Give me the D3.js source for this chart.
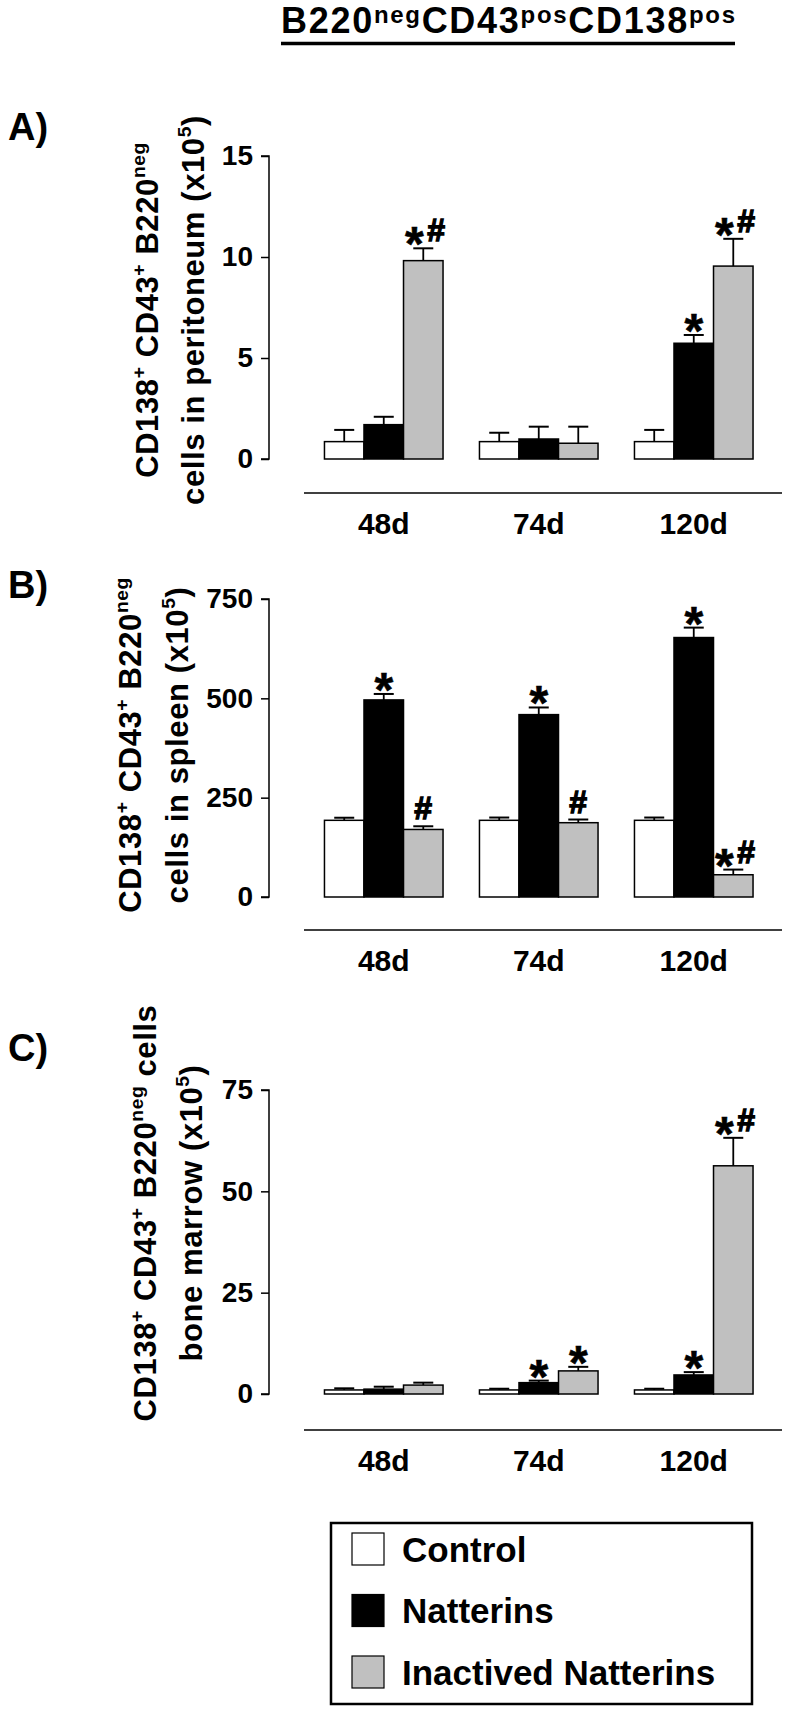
<!DOCTYPE html>
<html><head><meta charset="utf-8">
<script src="https://cdn.jsdelivr.net/npm/d3@7"></script>
<style>
body{margin:0;background:#fff;}
svg text{font-family:"Liberation Sans",Arial,Helvetica,sans-serif;font-weight:bold;fill:#000;}
</style></head><body>
<svg id="chart" width="790" height="1714"></svg>
<script>
// ---------- DATA ----------
const categories = ["48d", "74d", "120d"];
const series = ["Control", "Natterins", "Inactived Natterins"];
const seriesColors = ["#ffffff", "#000000", "#c0c0c0"];

// Panel A: peritoneum (x10^5) — mean and top of error bar, per series across categories
const periControl = [0.86, 0.86, 0.86];
const periControlTop = [1.44, 1.30, 1.44];
const periNatterins = [1.70, 0.99, 5.73];
const periNatterinsTop = [2.09, 1.60, 6.14];
const periInactived = [9.82, 0.78, 9.55];
const periInactivedTop = [10.43, 1.60, 10.9];
const periMarks = [["", "", "*#"], ["", "", ""], ["", "*", "*#"]];
const periTicks = [0, 5, 10, 15];

// Panel B: spleen
const splControl = [193, 193, 193];
const splControlTop = [199.5, 200, 200];
const splNatterins = [496, 459, 653];
const splNatterinsTop = [511, 477, 678];
const splInactived = [170, 187, 56];
const splInactivedTop = [178, 195, 69];
const splMarks = [["", "*", "#"], ["", "*", "#"], ["", "*", "*#"]];
const splTicks = [0, 250, 500, 750];

// Panel C: bone marrow
const bmControl = [1.0, 1.0, 1.0];
const bmControlTop = [1.4, 1.3, 1.3];
const bmNatterins = [1.2, 2.8, 4.7];
const bmNatterinsTop = [1.8, 3.3, 5.4];
const bmInactived = [2.2, 5.7, 56.3];
const bmInactivedTop = [2.8, 6.7, 63.2];
const bmMarks = [["", "", ""], ["", "*", "*"], ["", "*", "*#"]];
const bmTicks = [0, 25, 50, 75];

// ---------- DRAW ----------
const svg = d3.select("#chart");

const x0 = d3.scaleBand().domain(categories)
  .range([306.25, 771.25]).paddingInner(0.235).paddingOuter(0.1175);
const x1 = d3.scaleBand().domain(series).range([0, x0.bandwidth()]);

// Title
const title = svg.append("text").attr("x", 508).attr("y", 33)
  .attr("text-anchor", "middle").attr("font-size", 36)
  .attr("textLength", 454).attr("lengthAdjust", "spacing");
title.append("tspan").text("B220");
title.append("tspan").attr("font-size", 24).attr("dy", -10).text("neg");
title.append("tspan").attr("dy", 10).text("CD43");
title.append("tspan").attr("font-size", 24).attr("dy", -10).text("pos");
title.append("tspan").attr("dy", 10).text("CD138");
title.append("tspan").attr("font-size", 24).attr("dy", -10).text("pos");
const tb = title.node().getBBox();
svg.append("line").attr("x1", tb.x).attr("x2", tb.x + tb.width)
  .attr("y1", 43.5).attr("y2", 43.5).attr("stroke", "#000").attr("stroke-width", 3.5);

function ylabLine(g, x, y, parts, fs) {
  const t = g.append("text")
    .attr("transform", `translate(${x},${y}) rotate(-90)`)
    .attr("text-anchor", "middle").attr("font-size", fs)
    .attr("letter-spacing", 0.6);
  let shift = 0;
  parts.forEach(p => {
    const ts = t.append("tspan");
    if (p.sup) {
      ts.attr("font-size", fs * 0.62).attr("dy", -fs * 0.42 - shift);
      shift = -fs * 0.42;
    } else {
      if (shift !== 0) ts.attr("dy", -shift);
      shift = 0;
    }
    ts.text(p.t);
  });
}

const lineParts1 = [{t:"CD138"},{t:"+",sup:1},{t:" CD43"},{t:"+",sup:1},{t:" B220"},{t:"neg",sup:1}];

const panels = [
  {
    label: "A)", labelY: 140, max: 15, ticks: periTicks, yBottom: 459, yTop: 156, lineY: 493,
    means: [periControl, periNatterins, periInactived],
    tops: [periControlTop, periNatterinsTop, periInactivedTop], marks: periMarks,
    ylab: [
      { x: 158, parts: lineParts1 },
      { x: 204, parts: [{t:"cells in peritoneum (x10"},{t:"5",sup:1},{t:")"}] }
    ], ylabY: 310
  },
  {
    label: "B)", labelY: 598, max: 750, ticks: splTicks, yBottom: 897, yTop: 599, lineY: 930,
    means: [splControl, splNatterins, splInactived],
    tops: [splControlTop, splNatterinsTop, splInactivedTop], marks: splMarks,
    ylab: [
      { x: 141, parts: lineParts1 },
      { x: 188, parts: [{t:"cells in spleen (x10"},{t:"5",sup:1},{t:")"}] }
    ], ylabY: 745
  },
  {
    label: "C)", labelY: 1061, max: 75, ticks: bmTicks, yBottom: 1394, yTop: 1090, lineY: 1430,
    means: [bmControl, bmNatterins, bmInactived],
    tops: [bmControlTop, bmNatterinsTop, bmInactivedTop], marks: bmMarks,
    ylab: [
      { x: 156, parts: lineParts1.concat([{t:" cells"}]) },
      { x: 202, parts: [{t:"bone marrow (x10"},{t:"5",sup:1},{t:")"}] }
    ], ylabY: 1213
  }
];

function star(gg, x, cap) {
  gg.append("text").attr("x", x).attr("y", cap + 12).attr("text-anchor", "middle")
    .attr("font-size", 48).attr("stroke", "#000").attr("stroke-width", 0.6).text("*");
}
function hash(gg, x, cap) {
  gg.append("text").attr("x", x).attr("y", cap - 7).attr("text-anchor", "middle")
    .attr("font-size", 32).attr("stroke", "#000").attr("stroke-width", 1.3).text("#");
}

panels.forEach(P => {
  const g = svg.append("g");
  const y = d3.scaleLinear().domain([0, P.max]).range([P.yBottom, P.yTop]);

  g.append("text").attr("x", 8).attr("y", P.labelY).attr("font-size", 38).text(P.label);

  // y axis
  const ax = g.append("g").attr("transform", "translate(269,0)")
    .call(d3.axisLeft(y).tickValues(P.ticks).tickSize(8).tickPadding(8).tickFormat(d3.format("d")));
  ax.select(".domain").attr("stroke", "#000").attr("stroke-width", 1.5).attr("d", `M-8,${y(P.max)}H0V${y(0)}H-8`);
  ax.selectAll(".tick line").attr("stroke", "#000").attr("stroke-width", 1.5);
  ax.selectAll(".tick text").attr("font-size", 28)
    .attr("font-family", '"Liberation Sans",Arial,sans-serif').attr("font-weight", "bold").attr("fill", "#000");

  // y label
  P.ylab.forEach(l => ylabLine(g, l.x, P.ylabY, l.parts, 31));

  // bars
  const groups = g.selectAll(".grp").data(categories).join("g")
    .attr("transform", d => `translate(${x0(d)},0)`);
  groups.each(function(cat, ci) {
    const gg = d3.select(this);
    series.forEach((s, si) => {
      const v = P.means[si][ci];
      gg.append("rect").attr("x", x1(s)).attr("y", y(v))
        .attr("width", x1.bandwidth()).attr("height", y(0) - y(v))
        .attr("fill", seriesColors[si]).attr("stroke", "#000").attr("stroke-width", 1.5);
    });
    series.forEach((s, si) => {
      const v = P.means[si][ci], t = P.tops[si][ci];
      const cx = x1(s) + x1.bandwidth() / 2;
      gg.append("line").attr("x1", cx).attr("x2", cx).attr("y1", y(v)).attr("y2", y(t))
        .attr("stroke", "#000").attr("stroke-width", 1.8);
      gg.append("line").attr("x1", cx - 10).attr("x2", cx + 10).attr("y1", y(t)).attr("y2", y(t))
        .attr("stroke", "#000").attr("stroke-width", 2);
      const m = P.marks[ci][si];
      const cap = y(t);
      if (m === "*") {
        star(gg, cx, cap);
      } else if (m === "#") {
        hash(gg, cx, cap);
      } else if (m === "*#") {
        star(gg, cx - 9, cap);
        hash(gg, cx + 13, cap);
      }
    });
  });

  // separate category axis line
  g.append("line").attr("x1", 304).attr("x2", 782).attr("y1", P.lineY).attr("y2", P.lineY)
    .attr("stroke", "#000").attr("stroke-width", 1.5);
  g.selectAll(".cat").data(categories).join("text")
    .attr("x", d => x0(d) + x0.bandwidth() / 2).attr("y", P.lineY + 41)
    .attr("text-anchor", "middle").attr("font-size", 30).text(d => d);
});

// Legend
const lg = svg.append("g");
lg.append("rect").attr("x", 331).attr("y", 1523).attr("width", 421).attr("height", 181)
  .attr("fill", "none").attr("stroke", "#000").attr("stroke-width", 2.5);
const legY = d3.scalePoint().domain(series).range([1549, 1672]);
series.forEach((s, i) => {
  lg.append("rect").attr("x", 352).attr("y", legY(s) - 16).attr("width", 32).attr("height", 32)
    .attr("fill", seriesColors[i]).attr("stroke", "#000").attr("stroke-width", 1.2);
  lg.append("text").attr("x", 402).attr("y", legY(s) + 12.5).attr("font-size", 35).text(s);
});
</script>
</body></html>
